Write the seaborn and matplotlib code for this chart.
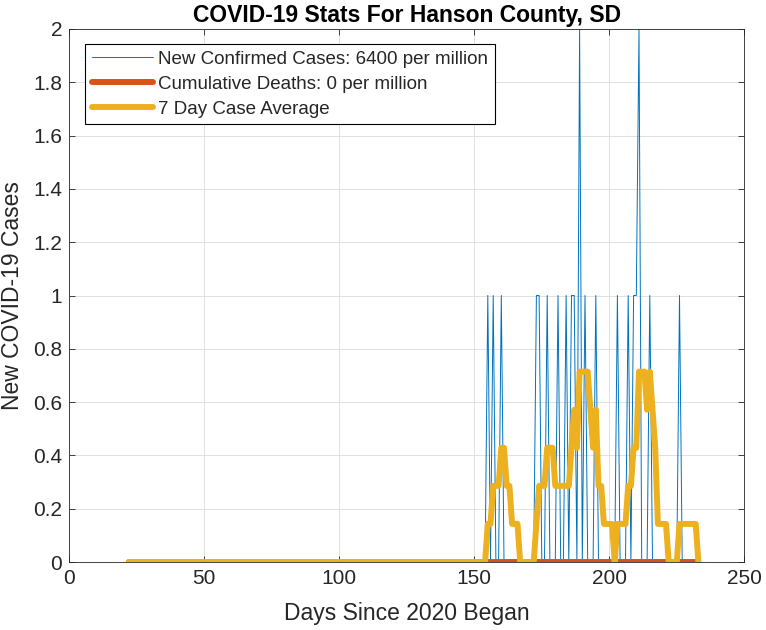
import numpy as np
import pandas as pd
import matplotlib
matplotlib.use("Agg")
import matplotlib.pyplot as plt
import seaborn as sns

# ---- data ----
first_day = 22
last_day = 233
case_days = [155, 157, 160, 173, 174, 177, 181, 184, 186, 187, 189, 191,
             195, 203, 207, 209, 210, 211, 215, 226]
case_counts = [1, 1, 1, 1, 1, 1, 1, 1, 1, 1, 2, 1,
               1, 1, 1, 1, 1, 2, 1, 1]
# 7-day average (in sevenths) for days 155..233; zero before day 155
avg_start_day = 155
avg_sevenths = [1, 1, 2, 2, 2, 3, 3, 2, 2, 1, 1, 1, 0, 0, 0, 0, 0, 0,
                1, 2, 2, 2, 3, 3, 3, 2, 2, 2, 2, 2, 2, 3, 4, 3, 5, 5, 5, 5,
                4, 3, 4, 2, 2, 1, 1, 1, 1, 0, 1, 1, 1, 1, 2, 2, 3, 3, 5, 5,
                5, 4, 5, 4, 3, 1, 1, 1, 1, 0, 0, 0, 0, 1, 1, 1, 1, 1, 1, 1, 0]
legend_labels = ["New Confirmed Cases: 6400 per million",
                 "Cumulative Deaths: 0 per million",
                 "7 Day Case Average"]
title_text = "COVID-19 Stats For Hanson County, SD"
x_label = "Days Since 2020 Began"
y_label = "New COVID-19 Cases"
x_ticks = [0, 50, 100, 150, 200, 250]
y_ticks = [0, 0.2, 0.4, 0.6, 0.8, 1, 1.2, 1.4, 1.6, 1.8, 2]

days = np.arange(first_day, last_day + 1)
new_cases = np.zeros(len(days))
for d, c in zip(case_days, case_counts):
    new_cases[d - first_day] = c
deaths = np.zeros(len(days))
avg7 = np.zeros(len(days))
avg7[avg_start_day - first_day:] = np.array(avg_sevenths) / 7.0

df = pd.DataFrame({"day": days, "cases": new_cases, "deaths": deaths, "avg": avg7})

# ---- style ----
sns.set_style("ticks")
plt.rcParams["font.family"] = ["Liberation Sans", "DejaVu Sans"]
ink = "#262626"
plt.rcParams.update({
    "axes.edgecolor": ink,
    "xtick.color": ink,
    "ytick.color": ink,
    "axes.labelcolor": ink,
})

fig = plt.figure(figsize=(7.66, 6.30), dpi=100)
L, R, B, T = 69.3, 744.3, 562.0, 29.0
ax = fig.add_axes([L / 766, (630 - B) / 630, (R - L) / 766, (B - T) / 630])

sns.lineplot(data=df, x="day", y="cases", ax=ax, color="#0072BD",
             linewidth=0.7, label=legend_labels[0], estimator=None, sort=False)
sns.lineplot(data=df, x="day", y="deaths", ax=ax, color="#D95319",
             linewidth=4.3, label=legend_labels[1], estimator=None, sort=False)
sns.lineplot(data=df, x="day", y="avg", ax=ax, color="#EDB120",
             linewidth=4.3, label=legend_labels[2], estimator=None, sort=False)

ax.set_xlim(0, 250)
ax.set_ylim(0, 2)
ax.set_xticks(x_ticks)
ax.set_yticks(y_ticks)
ax.set_xticklabels([str(v) for v in x_ticks])
ax.set_yticklabels(["0", "0.2", "0.4", "0.6", "0.8", "1", "1.2", "1.4", "1.6", "1.8", "2"])
ax.grid(True, color="#dcdcdc", linewidth=0.6)
ax.set_axisbelow(True)
for s in ax.spines.values():
    s.set_visible(True)
    s.set_linewidth(0.6)
    s.set_color(ink)
ax.tick_params(axis="both", which="both", direction="in", length=4.5, width=0.6,
               top=True, right=True, labelsize=15, pad=5)

ax.set_xlabel(x_label, fontsize=16.5, labelpad=10)
ax.set_ylabel(y_label, fontsize=16.5, labelpad=7)
ax.set_title(title_text, fontsize=16.5, fontweight="bold", color="black", pad=5)

leg = ax.legend(loc="upper left", bbox_to_anchor=(16 / 675, 1 - 15 / 533),
                borderaxespad=0, fontsize=13.5, frameon=True, fancybox=False,
                edgecolor="black", framealpha=1, handlelength=3.25,
                handletextpad=0.3, labelspacing=0.42, borderpad=0.35)
leg.get_frame().set_linewidth(0.8)

fig.savefig("out.png", dpi=100)
